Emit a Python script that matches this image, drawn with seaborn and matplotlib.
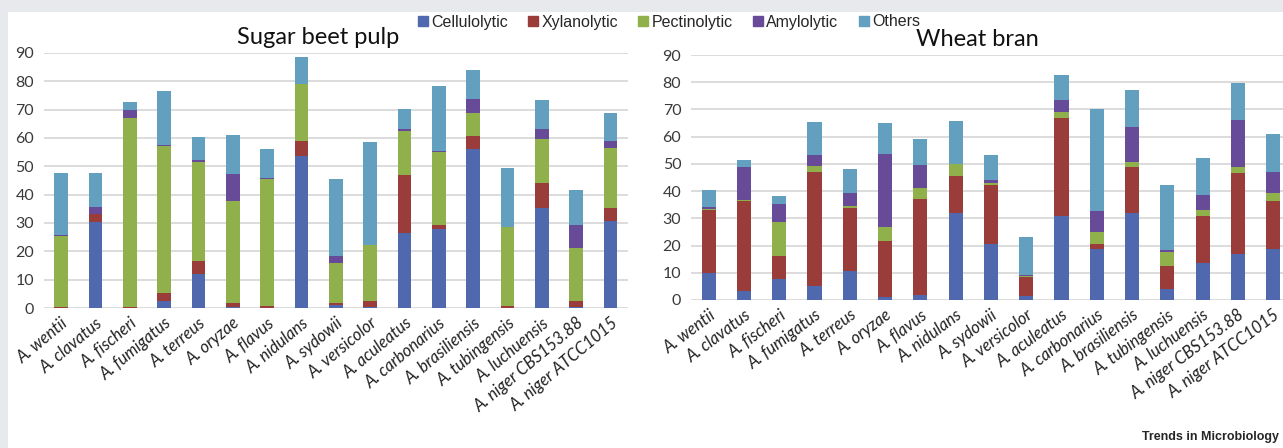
import matplotlib
matplotlib.use("Agg")
import pandas as pd
import matplotlib.pyplot as plt
import seaborn as sns
from matplotlib.lines import Line2D
from matplotlib.patches import Rectangle

# Species on the x axis (same order in both panels)
species = ["A. wentii", "A. clavatus", "A. fischeri", "A. fumigatus", "A. terreus",
           "A. oryzae", "A. flavus", "A. nidulans", "A. sydowii", "A. versicolor",
           "A. aculeatus", "A. carbonarius", "A. brasiliensis", "A. tubingensis",
           "A. luchuensis", "A. niger CBS153.88", "A. niger ATCC1015"]
categories = ["Cellulolytic", "Xylanolytic", "Pectinolytic", "Amylolytic", "Others"]
colors = ["#5068AE", "#9A3C3A", "#8FB04B", "#684B98", "#63A0BF"]

# Sugar beet pulp
sbp_cellulolytic = [0, 30.5, 0, 2.5, 12, 0.5, 0, 53.5, 1.2, 0.3, 26.5, 28, 56, 0, 35.3, 0.2, 30.8]
sbp_xylanolytic = [0.4, 2.6, 0.4, 2.8, 4.5, 1.3, 0.8, 5.3, 0.5, 2.3, 20.5, 1.2, 4.8, 0.6, 8.9, 2.4, 4.5]
sbp_pectinolytic = [24.9, 0, 66.6, 51.7, 35.2, 36, 44.7, 20.2, 14.3, 19.7, 15.3, 25.7, 8, 28.1, 15.5, 18.7, 21.1]
sbp_amylolytic = [0.5, 2.7, 3, 0.4, 0.4, 9.5, 0.3, 0, 2.5, 0, 1, 0.5, 5.1, 0, 3.5, 8.1, 2.6]
sbp_others = [21.9, 12, 2.8, 19.3, 8.4, 13.7, 10.4, 9.5, 27, 36.2, 6.9, 22.8, 10.1, 20.7, 10.1, 12.3, 9.8]

# Wheat bran
wb_cellulolytic = [10, 3.3, 7.7, 5.3, 10.5, 1.2, 2, 32, 20.5, 1.3, 31, 18.8, 31.8, 3.9, 13.5, 17, 18.8]
wb_xylanolytic = [23, 33, 8.5, 41.7, 23.2, 20.5, 35, 13.5, 21.8, 7, 36, 1.7, 17.2, 8.6, 17.2, 29.8, 17.5]
wb_pectinolytic = [0.5, 0.4, 12.3, 2.2, 1, 5.2, 4.3, 4.3, 0.5, 0.5, 2, 4.3, 1.8, 5, 2.3, 2, 2.9]
wb_amylolytic = [0.5, 12.3, 6.8, 4, 4.6, 26.9, 8.4, 0.3, 1.2, 0.4, 4.5, 7.9, 12.7, 0.7, 5.5, 17.2, 8]
wb_others = [6.5, 2.3, 2.9, 12.3, 8.9, 11.2, 9.6, 15.5, 9.3, 14, 9, 37.3, 13.8, 24, 13.7, 13.8, 13.8]

sns.set_style("white")
plt.rcParams['font.family'] = ['Lato', 'DejaVu Sans']


def make_frame(series):
    df = pd.DataFrame(series, index=categories, columns=species).T
    cum = df.cumsum(axis=1)
    long = cum.reset_index().melt(id_vars="index", var_name="category", value_name="top")
    return long.rename(columns={"index": "species"})


def draw_panel(ax, series, rot):
    df = make_frame(series)
    # stacked bars: draw cumulative totals, tallest first
    for cat, col in reversed(list(zip(categories, colors))):
        sns.barplot(data=df[df["category"] == cat], x="species", y="top", order=species,
                    color=col, saturation=1, width=0.4, errorbar=None, linewidth=0, ax=ax)
    ax.set_xlabel("")
    ax.set_ylabel("")
    ax.set_ylim(0, 90)
    ax.set_xlim(-0.5, len(species) - 0.5)
    ax.set_yticks(range(0, 91, 10))
    ax.yaxis.grid(True, color="#d9d9d9", linewidth=1.3)
    ax.set_axisbelow(True)
    sns.despine(ax=ax, left=True, bottom=True)
    ax.tick_params(length=0, labelcolor="#3a3a3a")
    ax.tick_params(axis="y", labelsize=11.5, pad=7)
    ax.tick_params(axis="x", pad=5)
    ax.set_xticks(range(len(species)))
    ax.set_xticklabels(species, rotation=rot, ha="right", rotation_mode="anchor",
                       fontsize=12, style="italic", color="#222222")
    ax.set_facecolor("none")
    ax.set_zorder(2)


fig = plt.figure(figsize=(12.83, 4.48), dpi=100)
fig.patch.set_facecolor("#e8e9ec")
fig.patches.append(Rectangle((8 / 1283, 0), 1, (448 - 12) / 448, transform=fig.transFigure,
                             facecolor="white", edgecolor="none", zorder=-10))

ax1 = fig.add_axes([0.0342, 0.3125, 0.4550, 0.5692])
draw_panel(ax1, [sbp_cellulolytic, sbp_xylanolytic, sbp_pectinolytic, sbp_amylolytic, sbp_others], 40)

ax2 = fig.add_axes([0.5386, 0.3304, 0.4675, 0.5468])
draw_panel(ax2, [wb_cellulolytic, wb_xylanolytic, wb_pectinolytic, wb_amylolytic, wb_others], 37)

fig.text(318 / 1283, 1 - 38 / 448, "Sugar beet pulp", ha="center", va="center", fontsize=17, color="#111111")
fig.text(977 / 1283, 1 - 40 / 448, "Wheat bran", ha="center", va="center", fontsize=17, color="#111111")

handles = [Line2D([], [], marker="s", linestyle="none", markersize=7, color=c) for c in colors]
fig.legend(handles, categories, loc="center", bbox_to_anchor=(669 / 1283, 1 - 22 / 448), ncol=5,
           frameon=False, handlelength=0.6, handletextpad=0.2, columnspacing=1.3,
           prop={"family": ["Liberation Sans", "DejaVu Sans"], "size": 11.5})

fig.text(1279 / 1283, 1 - 437 / 448, "Trends in Microbiology", ha="right", va="center", fontsize=9,
         fontweight="bold", family=["Liberation Sans Narrow", "Liberation Sans", "DejaVu Sans"])

fig.savefig("out.png", dpi=100, facecolor=fig.get_facecolor())
